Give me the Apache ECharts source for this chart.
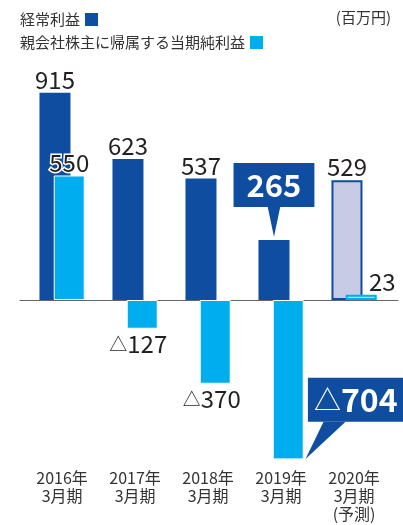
<!DOCTYPE html>
<html><head><meta charset="utf-8">
<script src="https://cdn.jsdelivr.net/npm/echarts@6/dist/echarts.min.js"></script>
<style>html,body{margin:0;padding:0;background:#fff}#c{width:403px;height:525px}</style>
</head><body><div id="c"></div>
<script>
const categories = ['2016年\n3月期', '2017年\n3月期', '2018年\n3月期', '2019年\n3月期', '2020年\n3月期\n(予測)'];
const recurringProfit = [915, 623, 537, 265, 529];
const netProfit = [550, -127, -370, -704, 23];
const seriesNames = ['経常利益', '親会社株主に帰属する当期純利益'];
const unitLabel = '(百万円)';
const forecastIndex = 4;
const highlightIndex = 3;

const FONT = '"Noto Sans CJK JP", "Noto Sans", sans-serif';
const DARK = '#0e4da0';
const LIGHT = '#00aeef';

const chart = echarts.init(document.getElementById('c'), null, {renderer: 'canvas'});

const baseRich = {
  t: {fontFamily: FONT, fontSize: 18, color: '#231f20', textBorderColor: '#fff', textBorderWidth: 3},
  n: {fontFamily: FONT, fontSize: 24, color: '#231f20', textBorderColor: '#fff', textBorderWidth: 3}
};
const baseLabel = {
  show: true, fontFamily: FONT, fontSize: 24, color: '#231f20',
  textBorderColor: '#fff', textBorderWidth: 3,
  formatter: p => p.value < 0 ? '{t|△}{n|' + Math.abs(p.value) + '}' : '{n|' + p.value + '}',
  rich: baseRich
};

const darkData = recurringProfit.map((v, i) => {
  const item = {value: v, label: {position: 'top', distance: 1}};
  if (i === forecastIndex) item.itemStyle = {color: '#c8cbe6', borderColor: DARK, borderWidth: 2};
  if (i === highlightIndex) item.label = {
    position: 'top', distance: 33, backgroundColor: DARK, padding: [6, 13, 6, 13], textBorderWidth: 0,
    formatter: p => '{b|' + p.value + '}',
    rich: {b: {fontFamily: FONT, fontSize: 31, fontWeight: 'bold', color: '#fff', lineHeight: 32,
      textBorderWidth: 0}}
  };
  return item;
});

const lightData = netProfit.map((v, i) => {
  const item = {value: v, label: {position: v < 0 ? 'bottom' : 'top', distance: v < 0 ? 3 : 1}};
  if (i === 1) item.label.offset = [-4, 0];
  if (i === 2) item.label.offset = [-3.5, 0];
  if (i === forecastIndex) {
    item.itemStyle = {color: '#aadff6', borderColor: LIGHT, borderWidth: 2};
    item.label.offset = [21, 0];
  }
  if (i === highlightIndex) item.label = {
    position: 'bottom', distance: 0, offset: [69, -81.7],
    backgroundColor: DARK, padding: [6, 9, 6, 6], textBorderWidth: 0,
    formatter: p => '{t|△}{n|' + Math.abs(p.value) + '}',
    rich: {
      t: {fontFamily: FONT, fontSize: 27, color: '#fff', lineHeight: 32, textBorderWidth: 0},
      n: {fontFamily: FONT, fontSize: 32, fontWeight: 'bold', color: '#fff', lineHeight: 32, textBorderWidth: 0}
    }
  };
  return item;
});

const legendBase = {
  orient: 'horizontal', left: 20, align: 'right', icon: 'rect',
  itemWidth: 13, itemHeight: 13, selectedMode: false, padding: 0,
  itemStyle: {borderWidth: 0},
  textStyle: {fontFamily: FONT, fontSize: 15, color: '#333'}
};

const option = {
  animation: false,
  title: {text: unitLabel, right: 12, top: 10, padding: 0,
    textStyle: {fontFamily: FONT, fontSize: 15, fontWeight: 'normal', color: '#333'}},
  legend: [
    Object.assign({}, legendBase, {top: 12, data: [seriesNames[0]]}),
    Object.assign({}, legendBase, {top: 35, data: [seriesNames[1]]})
  ],
  grid: [
    {left: 25.6, right: 12.4, top: 73.6, bottom: 62},
    {left: 20, right: 5, top: 73.6, bottom: 62}
  ],
  xAxis: [
    {type: 'category', gridIndex: 0, data: categories,
      axisLine: {show: false, onZero: false}, axisTick: {show: false},
      axisLabel: {fontFamily: FONT, fontSize: 16, lineHeight: 18, color: '#333', margin: 6}},
    {type: 'category', gridIndex: 1, data: [''],
      axisLine: {show: true, onZero: true, lineStyle: {color: '#666', width: 1}},
      axisTick: {show: false}, axisLabel: {show: false}}
  ],
  yAxis: [
    {type: 'value', gridIndex: 0, min: -720, max: 1000, show: false},
    {type: 'value', gridIndex: 1, min: -720, max: 1000, show: false}
  ],
  series: [
    {name: seriesNames[0], type: 'bar', xAxisIndex: 0, yAxisIndex: 0,
      barWidth: 31, barGap: '-54%', itemStyle: {color: DARK},
      label: baseLabel, data: darkData,
      markPoint: {silent: true, animation: false, label: {show: false},
        data: [{coord: [categories[highlightIndex], recurringProfit[highlightIndex]],
          symbol: 'path://M0,0 L13,0 L6.5,30 Z', symbolSize: [13, 31], symbolOffset: [0, -18.8],
          itemStyle: {color: DARK}}]}},
    {name: seriesNames[1], type: 'bar', xAxisIndex: 0, yAxisIndex: 0,
      barWidth: 31, barGap: '-54%', itemStyle: {color: LIGHT, borderColor: '#fff', borderWidth: 1},
      label: baseLabel, data: lightData,
      markPoint: {silent: true, animation: false, label: {show: false},
        data: [{coord: [categories[highlightIndex], netProfit[highlightIndex]],
          symbol: 'path://M18,0 L40,0 L0,37.3 Z', symbolSize: [40, 37.3], symbolOffset: [37.3, -19.05],
          itemStyle: {color: DARK, borderWidth: 0}}]}}
  ]
};
chart.setOption(option);
</script></body></html>
